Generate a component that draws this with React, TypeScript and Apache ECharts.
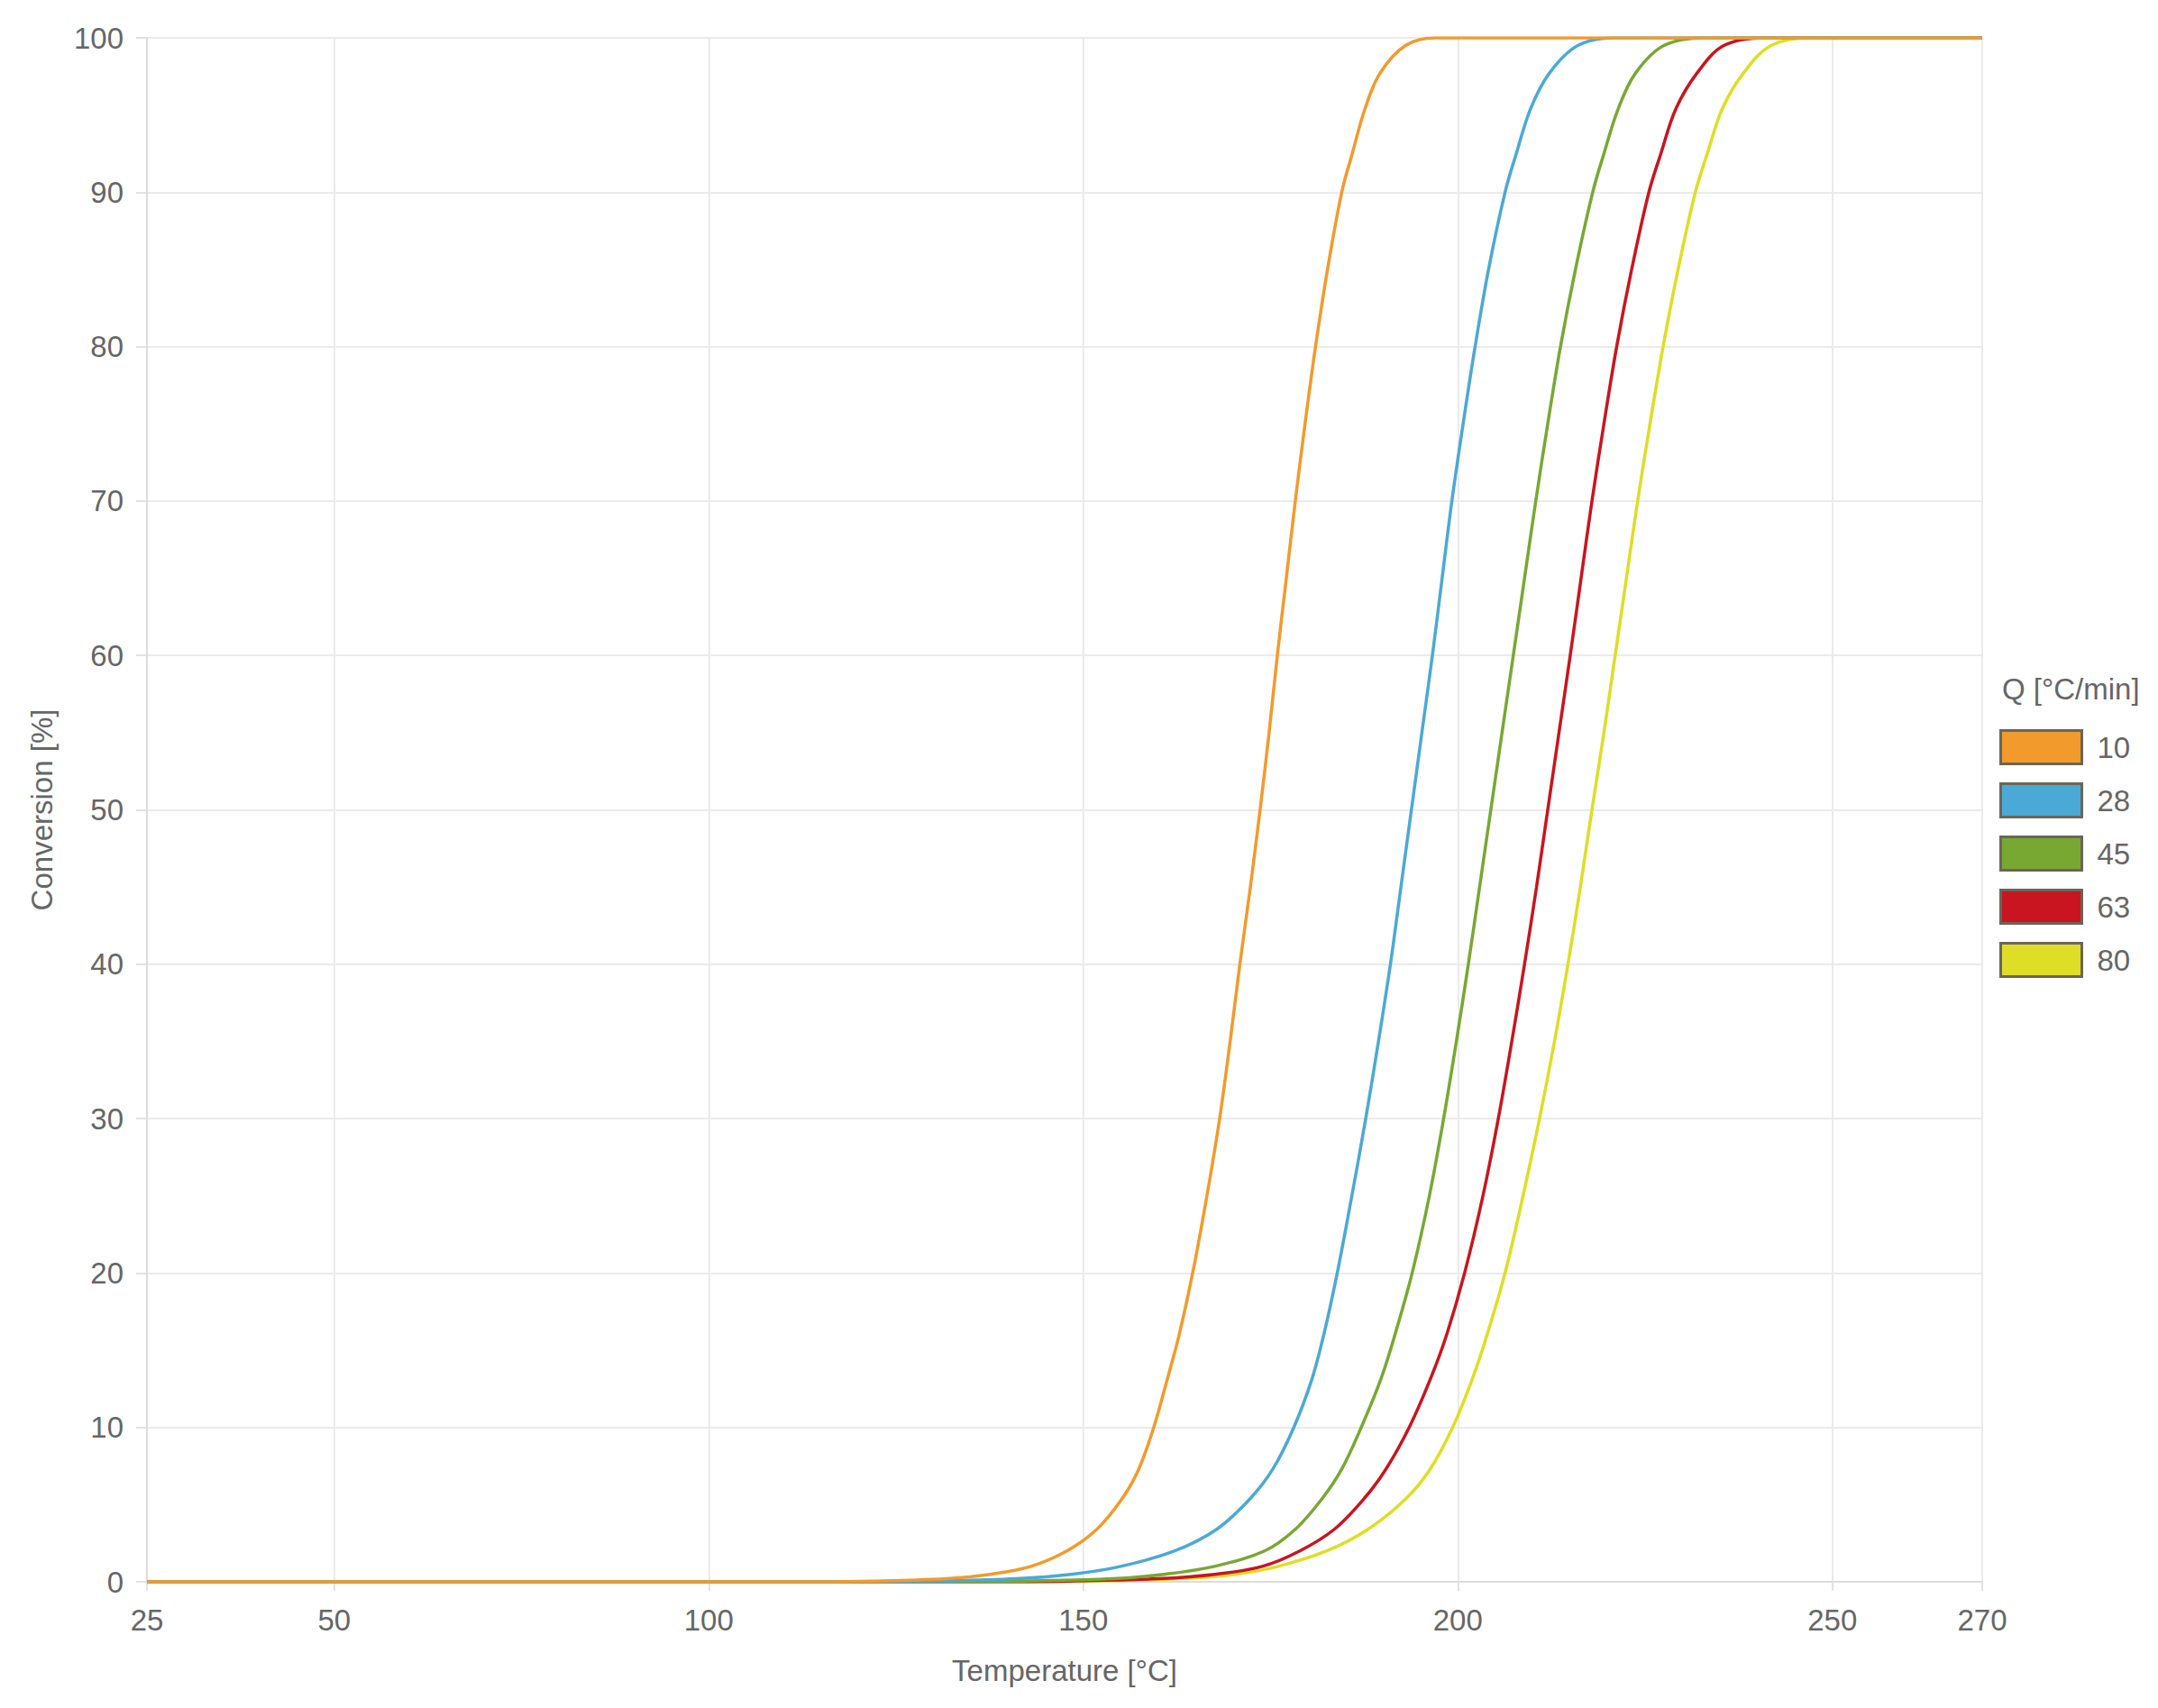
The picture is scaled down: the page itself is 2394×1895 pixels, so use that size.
import React, { useEffect, useRef } from "react";
import * as echarts from "echarts";

const seriesNames = ["10", "28", "45", "63", "80"];
const seriesColors = ["#F39A2C", "#4BA9D5", "#78A832", "#C8151F", "#DEDE26"];

// [temperature °C, conversion %]
const q10: [number, number][] = [
  [25, 0], [112, 0], [122, 0.05], [131.7, 0.2], [137.8, 0.5], [143, 1], [147.8, 2], [151.8, 3.4],
  [155.2, 5.4], [157.4, 7.3], [159.4, 10], [161.2, 13.1], [162.8, 16], [164.6, 20], [166.5, 25],
  [168.2, 30], [169.6, 35], [170.9, 40], [172.3, 45], [173.6, 50], [174.8, 55], [175.9, 60],
  [177.1, 65], [178.3, 70], [179.6, 75], [181, 80], [182.6, 85], [184.5, 90], [185.9, 92.5],
  [187.6, 95.4], [189.6, 97.7], [193, 99.5], [197, 100], [270, 100],
];
const q28: [number, number][] = [
  [25, 0], [122, 0], [131, 0.05], [141, 0.2], [148.6, 0.5], [155, 1], [162.2, 2], [167.8, 3.4],
  [172.3, 5.4], [175.3, 7.3], [178.1, 10], [180.5, 13.1], [182.1, 16], [183.9, 20], [185.85, 25],
  [187.7, 30], [189.4, 35], [191, 40], [192.4, 45], [193.8, 50], [195.2, 55], [196.6, 60],
  [197.9, 65], [199.2, 70], [200.7, 75], [202.3, 80], [204.1, 85], [206.3, 90], [207.8, 92.5],
  [209.7, 95.4], [212.2, 97.7], [216, 99.5], [221, 100], [270, 100],
];
const q45: [number, number][] = [
  [25, 0], [132, 0], [142, 0.05], [154, 0.2], [161, 0.5], [167.5, 1], [174.2, 2], [178.3, 3.4],
  [181.9, 5.4], [184.5, 7.3], [187.1, 10], [189.7, 13.1], [191.6, 16], [193.9, 20], [196.2, 25],
  [198.1, 30], [199.8, 35], [201.4, 40], [202.9, 45], [204.4, 50], [205.9, 55], [207.4, 60],
  [208.9, 65], [210.4, 70], [212, 75], [213.7, 80], [215.7, 85], [218, 90], [219.5, 92.5],
  [221.4, 95.4], [223.7, 97.7], [227.5, 99.5], [233, 100], [270, 100],
];
const q63: [number, number][] = [
  [25, 0], [138, 0], [148, 0.05], [160, 0.2], [167.8, 0.5], [173.9, 1], [178.9, 2], [183.5, 3.4],
  [187.5, 5.4], [190.4, 7.3], [193.5, 10], [196.3, 13.1], [198.5, 16], [200.9, 20], [203.35, 25],
  [205.4, 30], [207.2, 35], [208.9, 40], [210.5, 45], [212, 50], [213.5, 55], [215, 60],
  [216.45, 65], [217.9, 70], [219.5, 75], [221.2, 80], [223.2, 85], [225.5, 90], [227.1, 92.5],
  [229.1, 95.4], [231.9, 97.7], [235.5, 99.5], [241, 100], [270, 100],
];
const q80: [number, number][] = [
  [25, 0], [141, 0], [151, 0.05], [163, 0.2], [170.5, 0.5], [176, 1], [182.5, 2], [188, 3.4],
  [193.1, 5.4], [196.3, 7.3], [199.3, 10], [201.9, 13.1], [203.9, 16], [206.3, 20], [208.7, 25],
  [210.9, 30], [212.9, 35], [214.7, 40], [216.35, 45], [217.9, 50], [219.5, 55], [221, 60],
  [222.5, 65], [224, 70], [225.65, 75], [227.4, 80], [229.4, 85], [231.7, 90], [233.3, 92.5],
  [235.3, 95.4], [238.1, 97.7], [241.8, 99.5], [247, 100], [270, 100],
];
const seriesData = [q10, q28, q45, q63, q80];

const xMin = 25;
const xMax = 270;
const yMin = 0;
const yMax = 100;

const FONT = "'Liberation Sans', Arial, sans-serif";
const TEXT = "#666";

export default function App() {
  const ref = useRef<HTMLDivElement>(null);
  useEffect(() => {
    if (!ref.current) return;
    const chart = echarts.init(ref.current, undefined, { renderer: "svg" });
    const order = [4, 3, 2, 1, 0];
    chart.setOption({
      animation: false,
      backgroundColor: "#fff",
      textStyle: { fontFamily: FONT },
      grid: { left: 163, right: 195, top: 42, bottom: 140, containLabel: false, outerBoundsMode: "none" },
      title: {
        text: "Q [°C/min]",
        left: 2221,
        top: 748,
        padding: 0,
        textStyle: { fontSize: 33, fontWeight: "normal", color: TEXT, fontFamily: FONT },
      },
      legend: {
        orient: "vertical",
        left: 2218,
        top: 809,
        padding: 0,
        icon: "rect",
        itemWidth: 90,
        itemHeight: 37,
        itemGap: 19,
        data: seriesNames,
        itemStyle: { borderColor: "#6a6658", borderWidth: 3 },
        textStyle: { fontSize: 33, color: TEXT, fontFamily: FONT, padding: [0, 0, 0, 12] },
      },
      xAxis: {
        type: "value",
        min: xMin,
        max: xMax,
        splitNumber: 5,
        minInterval: 50,
        maxInterval: 50,
        name: "Temperature [°C]",
        nameLocation: "middle",
        nameGap: 82,
        nameTextStyle: { fontSize: 33, color: TEXT, fontFamily: FONT },
        axisLine: { lineStyle: { color: "#dcdcdc", width: 2 } },
        axisTick: { show: true, length: 10, lineStyle: { color: "#e2e2e2", width: 2 } },
        axisLabel: { fontSize: 33, color: TEXT, margin: 26, fontFamily: FONT },
        splitLine: { show: true, lineStyle: { color: "#ebebeb", width: 2 } },
      },
      yAxis: {
        type: "value",
        min: yMin,
        max: yMax,
        interval: 10,
        name: "Conversion [%]",
        nameLocation: "middle",
        nameGap: 100,
        nameTextStyle: { fontSize: 33, color: TEXT, fontFamily: FONT },
        axisLine: { show: true, lineStyle: { color: "#dcdcdc", width: 2 } },
        axisTick: { show: true, length: 12, lineStyle: { color: "#e2e2e2", width: 2 } },
        axisLabel: { fontSize: 33, color: TEXT, margin: 26, fontFamily: FONT },
        splitLine: { show: true, lineStyle: { color: "#ebebeb", width: 2 } },
      },
      series: order.map((i) => ({
        name: seriesNames[i],
        type: "line",
        data: seriesData[i],
        showSymbol: false,
        symbol: "none",
        smooth: 0.35,
        color: seriesColors[i],
        lineStyle: { color: seriesColors[i], width: 3.5 },
        itemStyle: { color: seriesColors[i] },
        z: 2 + (4 - i),
      })),
    });
    return () => chart.dispose();
  }, []);
  return (
    <div
      ref={ref}
      style={{ position: "absolute", left: 0, top: 0, width: 2394, height: 1895 }}
    />
  );
}
